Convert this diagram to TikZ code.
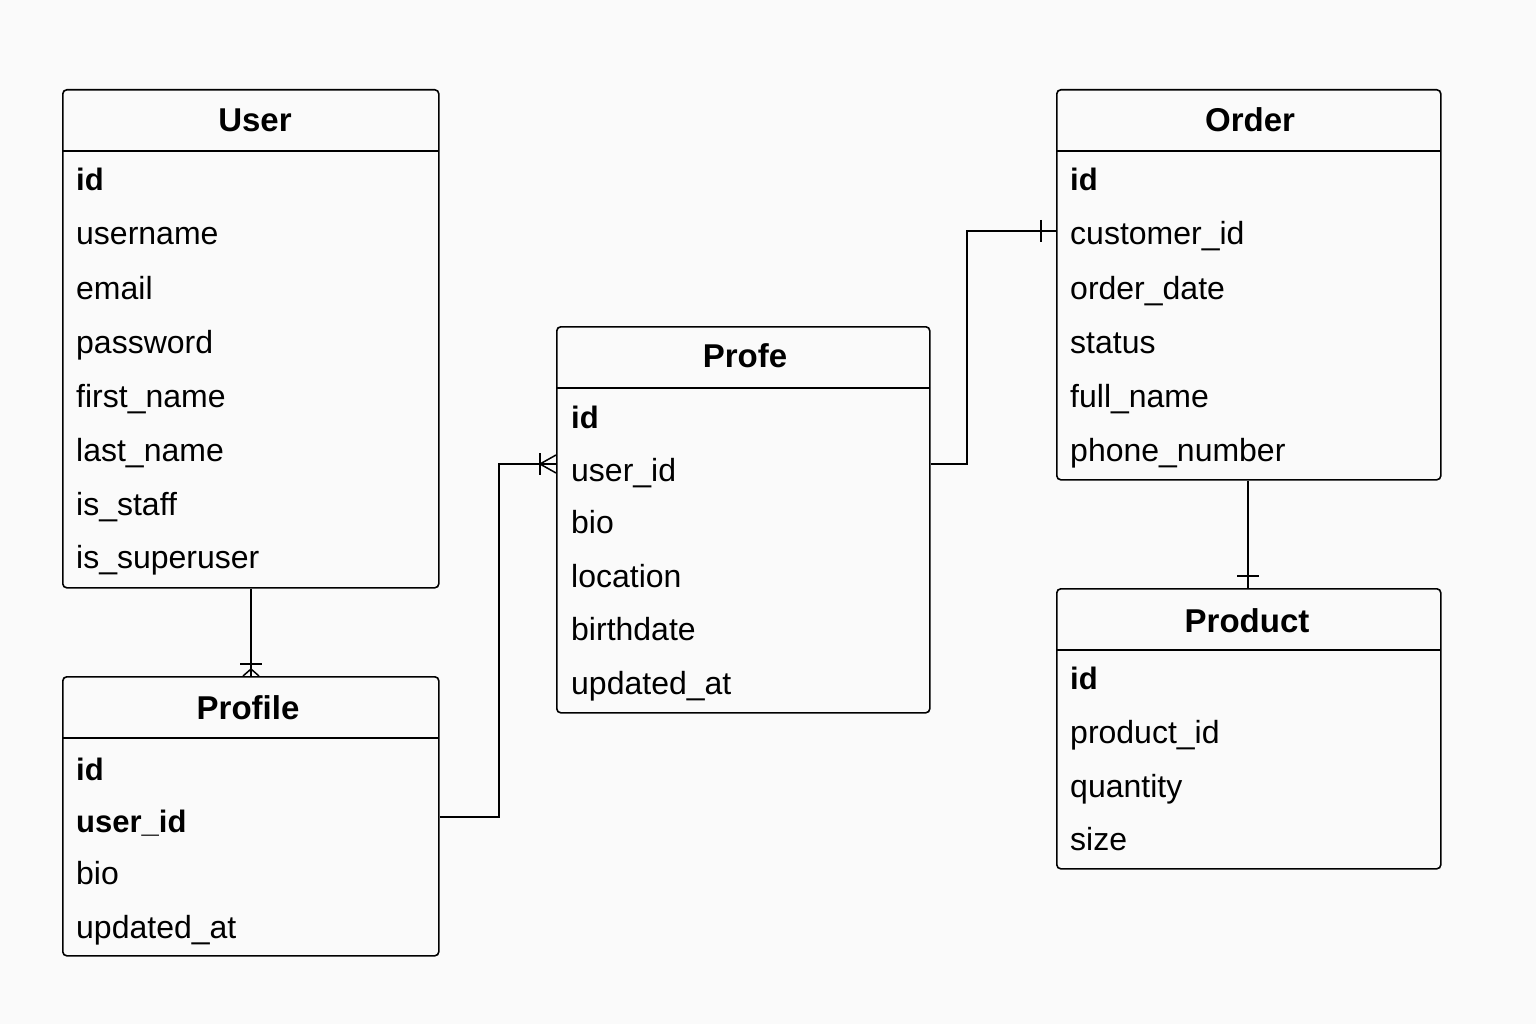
\documentclass[tikz,border=0pt]{standalone}
\usepackage{fontspec}
\setmainfont{Liberation Sans}
\begin{document}
\begin{tikzpicture}[x=1pt,y=-1pt,
  ebox/.style={draw, line width=1.6pt, rounded corners=4pt, anchor=north west, inner sep=0pt},
  hline/.style={line width=1.5pt},
  row/.style={anchor=base west, inner sep=0pt, font=\fontsize{32}{38}\selectfont},
  key/.style={row, font=\fontsize{31}{37}\selectfont\bfseries},
  ttl/.style={anchor=base, inner sep=0pt, font=\fontsize{33}{39}\selectfont\bfseries},
  conn/.style={line width=1.6pt},
  tick/.style={line width=1.5pt}]
\fill[white!98!black] (0,0) rectangle (1536,1024);
\useasboundingbox (0,0) rectangle (1536,1024);

% User
\node[ebox, minimum width=376, minimum height=498] (user) at (62,89) {};
\draw[hline] (62,151) -- (438,151);
\node[ttl] (userT) at (255,132) {User};
\node[key] (u1) at (76,191) {id};
\node[row] (u2) at (76,245) {username};
\node[row] (u3) at (76,299) {email};
\node[row] (u4) at (76,353) {password};
\node[row] (u5) at (76,407) {first\_name};
\node[row] (u6) at (76,461) {last\_name};
\node[row] (u7) at (76,515) {is\_staff};
\node[row] (u8) at (76,568) {is\_superuser};

% Profile
\node[ebox, minimum width=376, minimum height=279] (profile) at (62,676) {};
\draw[hline] (62,738) -- (438,738);
\node[ttl] (profileT) at (248,719) {Profile};
\node[key] (p1) at (76,780) {id};
\node[key] (p2) at (76,832) {user\_id};
\node[row] (p3) at (76,884) {bio};
\node[row] (p4) at (76,938) {updated\_at};

% Profe
\node[ebox, minimum width=373, minimum height=386] (profe) at (556,326) {};
\draw[hline] (556,388) -- (929,388);
\node[ttl] (profeT) at (745,367) {Profe};
\node[key] (q1) at (571,428) {id};
\node[row] (q2) at (571,481) {user\_id};
\node[row] (q3) at (571,533) {bio};
\node[row] (q4) at (571,587) {location};
\node[row] (q5) at (571,640) {birthdate};
\node[row] (q6) at (571,694) {updated\_at};

% Order
\node[ebox, minimum width=384, minimum height=390] (order) at (1056,89) {};
\draw[hline] (1056,151) -- (1440,151);
\node[ttl] (orderT) at (1250,132) {Order};
\node[key] (o1) at (1070,191) {id};
\node[row] (o2) at (1070,245) {customer\_id};
\node[row] (o3) at (1070,299) {order\_date};
\node[row] (o4) at (1070,353) {status};
\node[row] (o5) at (1070,407) {full\_name};
\node[row] (o6) at (1070,461) {phone\_number};

% Product
\node[ebox, minimum width=384, minimum height=280] (product) at (1056,588) {};
\draw[hline] (1056,650) -- (1440,650);
\node[ttl] (productT) at (1247,632) {Product};
\node[key] (r1) at (1070,689) {id};
\node[row] (r2) at (1070,743) {product\_id};
\node[row] (r3) at (1070,797) {quantity};
\node[row] (r4) at (1070,850) {size};

% Connectors
\draw[conn] (user.south -| 251,0) -- (profile.north -| 251,0);
\draw[tick] (240,664) -- (262,664);
\draw[tick] (251,669) -- (243,676);
\draw[tick] (251,669) -- (259,676);

\draw[conn] (profile.east |- 0,817) -| (499,464) -- (profe.west |- 0,464);
\draw[tick] (540,453) -- (540,475);
\draw[tick] (540,464) -- (556,455);
\draw[tick] (540,464) -- (556,473);

\draw[conn] (profe.east |- 0,464) -| (967,231) -- (order.west |- 0,231);
\draw[tick] (1041,220) -- (1041,242);

\draw[conn] (order.south -| 1248,0) -- (product.north -| 1248,0);
\draw[tick] (1237,576) -- (1259,576);
\end{tikzpicture}
\end{document}
